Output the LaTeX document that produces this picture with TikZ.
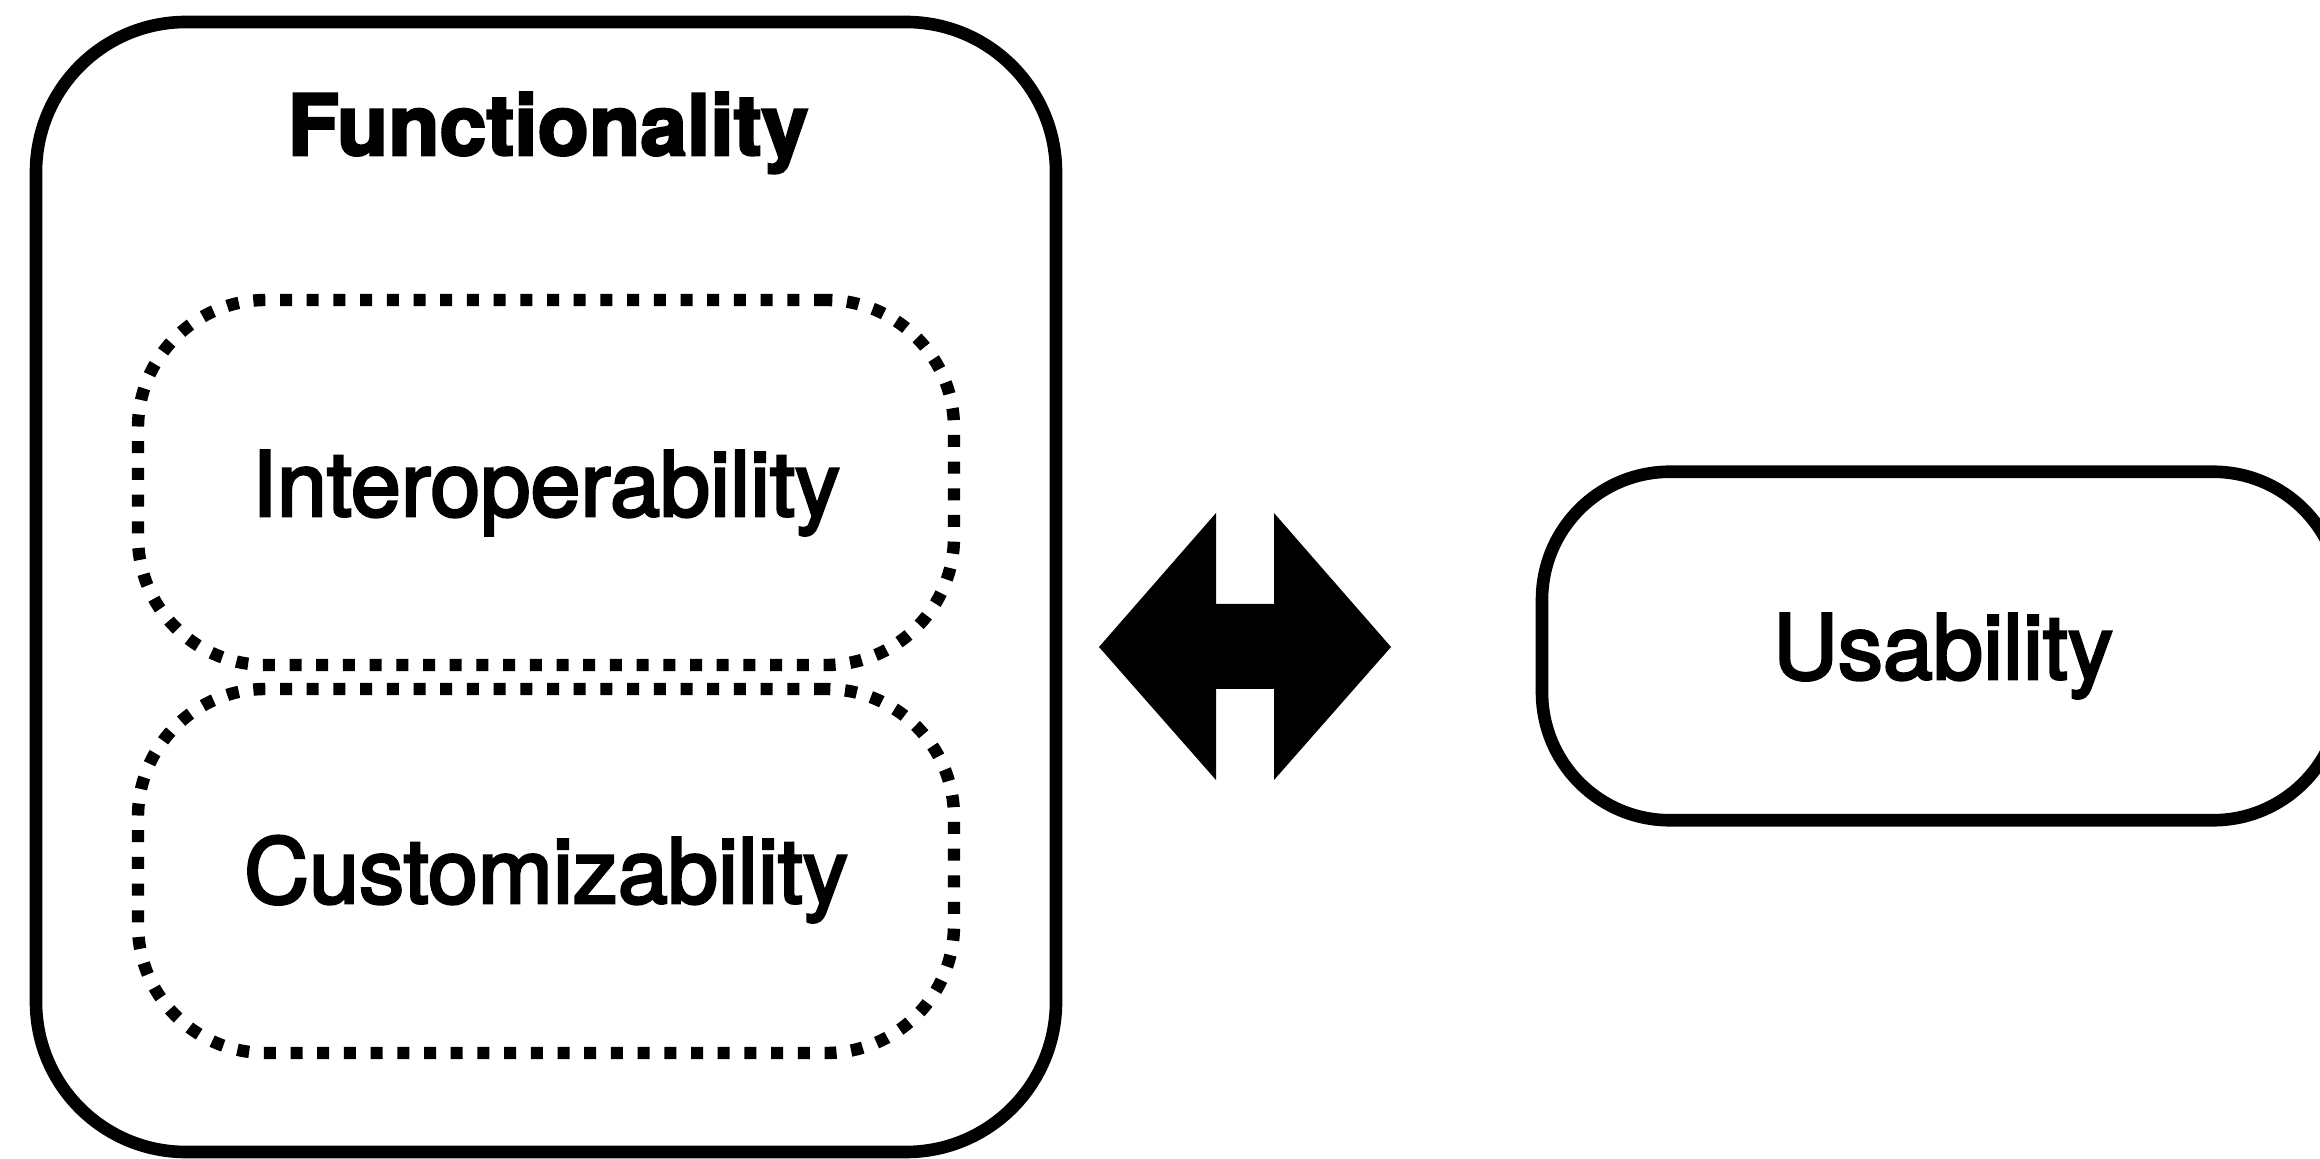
\documentclass[tikz,border=0pt]{standalone}
\usepackage{fontspec}
\setmainfont{TeX Gyre Heros}
\newfontfamily\medfont{TeX Gyre Heros}[FakeBold=3]
\newfontfamily\heavyfont{TeX Gyre Heros Bold}[FakeBold=3]
\begin{document}
\begin{tikzpicture}[x=0.5pt,y=-0.5pt,
  solidbox/.style={draw=black,line width=6.3pt,rounded corners=#1,inner sep=0pt},
  dotbox/.style={draw=black,line width=6.2pt,dash pattern=on 6pt off 7.35pt,rounded corners=64pt,inner sep=0pt,minimum width=408pt},
  lbl/.style={font=\medfont\fontsize{45}{54}\selectfont,inner sep=0pt,anchor=base},
  titlelbl/.style={font=\heavyfont\fontsize{42}{50}\selectfont,inner sep=0pt,anchor=base},
  bigarrow/.style={fill=black,draw=none}
]
\path[use as bounding box] (0,0) rectangle (2320,1159);
\clip (0,0) rectangle (2320,1159);

% outer Functionality box
\node[solidbox=75pt,minimum width=510pt,minimum height=565pt] (func) at (546,587) {};
\node[titlelbl] (functitle) at (548,155) {Functionality};

% dotted inner boxes
\node[dotbox,minimum height=182.5pt] (interop) at (546,482.5) {};
\node[lbl] (interoptxt) at (546,516) {Interoperability};
\node[dotbox,minimum height=182pt] (custom) at (546,871) {};
\node[lbl] (customtxt) at (546,903) {Customizability};

% Usability box
\node[solidbox=64pt,minimum width=399.5pt,minimum height=174.25pt] (usab) at (1941.5,646) {};
\node[lbl] (usabtxt) at (1943,679) {Usability};

% double arrow between them
\coordinate (arr) at (1245,647);
\begin{scope}[shift={(arr)}]
\fill[bigarrow] (-146,0) -- (-29,-134) -- (-29,-43) -- (29,-43) -- (29,-134) -- (146,0)
  -- (29,133) -- (29,42) -- (-29,42) -- (-29,133) -- cycle;
\end{scope}
\end{tikzpicture}
\end{document}
